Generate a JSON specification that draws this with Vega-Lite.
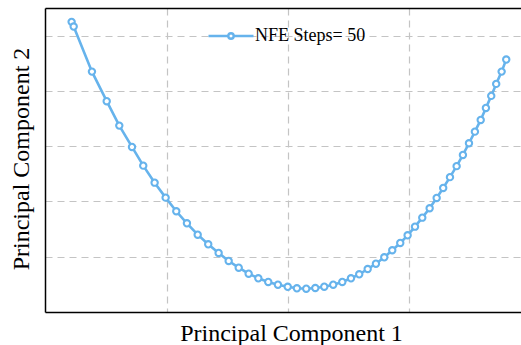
{
  "$schema": "https://vega.github.io/schema/vega-lite/v6.json",
  "width": 476,
  "height": 304,
  "autosize": {"type": "none"},
  "padding": {"left": 45, "top": 8, "right": 0, "bottom": 33},
  "background": "white",
  "config": {
    "view": {"stroke": null},
    "font": "Liberation Serif",
    "axis": {"labels": false, "domainColor": "black", "domainWidth": 1.5, "ticks": false, "gridColor": "#c4c4c4", "gridDash": [7, 5], "gridWidth": 1.2, "titleFont": "Liberation Serif", "titleFontSize": 24, "titleFontWeight": "normal", "titleColor": "black"}
  },
  "data": {"values": [
    {"step": 1, "pc1": -1.788, "pc2": 5.249, "series": "NFE Steps= 50"},
    {"step": 2, "pc1": -1.771, "pc2": 5.164, "series": "NFE Steps= 50"},
    {"step": 3, "pc1": -1.620, "pc2": 4.349, "series": "NFE Steps= 50"},
    {"step": 4, "pc1": -1.498, "pc2": 3.814, "series": "NFE Steps= 50"},
    {"step": 5, "pc1": -1.394, "pc2": 3.372, "series": "NFE Steps= 50"},
    {"step": 6, "pc1": -1.289, "pc2": 2.986, "series": "NFE Steps= 50"},
    {"step": 7, "pc1": -1.196, "pc2": 2.648, "series": "NFE Steps= 50"},
    {"step": 8, "pc1": -1.102, "pc2": 2.340, "series": "NFE Steps= 50"},
    {"step": 9, "pc1": -1.011, "pc2": 2.069, "series": "NFE Steps= 50"},
    {"step": 10, "pc1": -0.923, "pc2": 1.823, "series": "NFE Steps= 50"},
    {"step": 11, "pc1": -0.835, "pc2": 1.605, "series": "NFE Steps= 50"},
    {"step": 12, "pc1": -0.746, "pc2": 1.399, "series": "NFE Steps= 50"},
    {"step": 13, "pc1": -0.659, "pc2": 1.225, "series": "NFE Steps= 50"},
    {"step": 14, "pc1": -0.573, "pc2": 1.068, "series": "NFE Steps= 50"},
    {"step": 15, "pc1": -0.490, "pc2": 0.923, "series": "NFE Steps= 50"},
    {"step": 16, "pc1": -0.407, "pc2": 0.802, "series": "NFE Steps= 50"},
    {"step": 17, "pc1": -0.325, "pc2": 0.693, "series": "NFE Steps= 50"},
    {"step": 18, "pc1": -0.245, "pc2": 0.610, "series": "NFE Steps= 50"},
    {"step": 19, "pc1": -0.163, "pc2": 0.543, "series": "NFE Steps= 50"},
    {"step": 20, "pc1": -0.083, "pc2": 0.494, "series": "NFE Steps= 50"},
    {"step": 21, "pc1": -0.002, "pc2": 0.456, "series": "NFE Steps= 50"},
    {"step": 22, "pc1": 0.074, "pc2": 0.429, "series": "NFE Steps= 50"},
    {"step": 23, "pc1": 0.151, "pc2": 0.422, "series": "NFE Steps= 50"},
    {"step": 24, "pc1": 0.226, "pc2": 0.434, "series": "NFE Steps= 50"},
    {"step": 25, "pc1": 0.300, "pc2": 0.458, "series": "NFE Steps= 50"},
    {"step": 26, "pc1": 0.374, "pc2": 0.494, "series": "NFE Steps= 50"},
    {"step": 27, "pc1": 0.449, "pc2": 0.543, "series": "NFE Steps= 50"},
    {"step": 28, "pc1": 0.521, "pc2": 0.610, "series": "NFE Steps= 50"},
    {"step": 29, "pc1": 0.589, "pc2": 0.682, "series": "NFE Steps= 50"},
    {"step": 30, "pc1": 0.659, "pc2": 0.778, "series": "NFE Steps= 50"},
    {"step": 31, "pc1": 0.727, "pc2": 0.874, "series": "NFE Steps= 50"},
    {"step": 32, "pc1": 0.796, "pc2": 0.990, "series": "NFE Steps= 50"},
    {"step": 33, "pc1": 0.862, "pc2": 1.117, "series": "NFE Steps= 50"},
    {"step": 34, "pc1": 0.928, "pc2": 1.249, "series": "NFE Steps= 50"},
    {"step": 35, "pc1": 0.989, "pc2": 1.388, "series": "NFE Steps= 50"},
    {"step": 36, "pc1": 1.050, "pc2": 1.544, "series": "NFE Steps= 50"},
    {"step": 37, "pc1": 1.110, "pc2": 1.707, "series": "NFE Steps= 50"},
    {"step": 38, "pc1": 1.171, "pc2": 1.877, "series": "NFE Steps= 50"},
    {"step": 39, "pc1": 1.229, "pc2": 2.063, "series": "NFE Steps= 50"},
    {"step": 40, "pc1": 1.283, "pc2": 2.244, "series": "NFE Steps= 50"},
    {"step": 41, "pc1": 1.339, "pc2": 2.440, "series": "NFE Steps= 50"},
    {"step": 42, "pc1": 1.394, "pc2": 2.639, "series": "NFE Steps= 50"},
    {"step": 43, "pc1": 1.446, "pc2": 2.842, "series": "NFE Steps= 50"},
    {"step": 44, "pc1": 1.496, "pc2": 3.053, "series": "NFE Steps= 50"},
    {"step": 45, "pc1": 1.545, "pc2": 3.263, "series": "NFE Steps= 50"},
    {"step": 46, "pc1": 1.593, "pc2": 3.475, "series": "NFE Steps= 50"},
    {"step": 47, "pc1": 1.636, "pc2": 3.692, "series": "NFE Steps= 50"},
    {"step": 48, "pc1": 1.680, "pc2": 3.910, "series": "NFE Steps= 50"},
    {"step": 49, "pc1": 1.721, "pc2": 4.127, "series": "NFE Steps= 50"},
    {"step": 50, "pc1": 1.766, "pc2": 4.349, "series": "NFE Steps= 50"},
    {"step": 51, "pc1": 1.804, "pc2": 4.567, "series": "NFE Steps= 50"}
  ]},
  "resolve": {"axis": {"x": "independent", "y": "independent"}},
  "layer": [
    {
      "mark": {"type": "line", "strokeWidth": 2.6},
      "encoding": {
        "x": {"field": "pc1", "type": "quantitative", "scale": {"domain": [-2.008, 1.926], "nice": false, "zero": false},
          "axis": {"orient": "bottom", "title": "Principal Component 1", "values": [-1, 0, 1], "grid": true, "titleX": 246, "titleY": 28, "titleBaseline": "alphabetic", "titleAlign": "center"}},
        "y": {"field": "pc2", "type": "quantitative", "scale": {"domain": [0, 5.5], "nice": false, "zero": false},
          "axis": {"orient": "left", "title": "Principal Component 2", "values": [1, 2, 3, 4, 5], "grid": true, "titleX": -16.5, "titleY": 150.5, "titleBaseline": "alphabetic", "titleAngle": 270, "titleAlign": "center"}},
        "order": {"field": "step", "type": "quantitative"},
        "color": {"field": "series", "type": "nominal", "scale": {"range": ["#66b3ec"]},
          "legend": {"title": null, "orient": "none", "legendX": 162, "legendY": 4, "labelFont": "Liberation Serif", "labelFontSize": 18, "labelColor": "black", "labelOffset": 0,
            "symbolType": "M-1,0L-0.12,0M0.12,0L1,0M-0.12,0A0.12,0.12 0 1,1 0.12,0A0.12,0.12 0 1,1 -0.12,0Z",
            "symbolSize": 2025, "symbolStrokeWidth": 2.4, "symbolFillColor": "white", "padding": 0}}
      }
    },
    {
      "mark": {"type": "point", "shape": "circle", "filled": true, "fill": "white", "stroke": "#66b3ec", "strokeWidth": 2.1, "size": 40, "opacity": 1},
      "encoding": {
        "x": {"field": "pc1", "type": "quantitative", "axis": {"orient": "top", "title": null, "values": [-1, 0, 1], "grid": false}},
        "y": {"field": "pc2", "type": "quantitative", "axis": null}
      }
    }
  ]
}
